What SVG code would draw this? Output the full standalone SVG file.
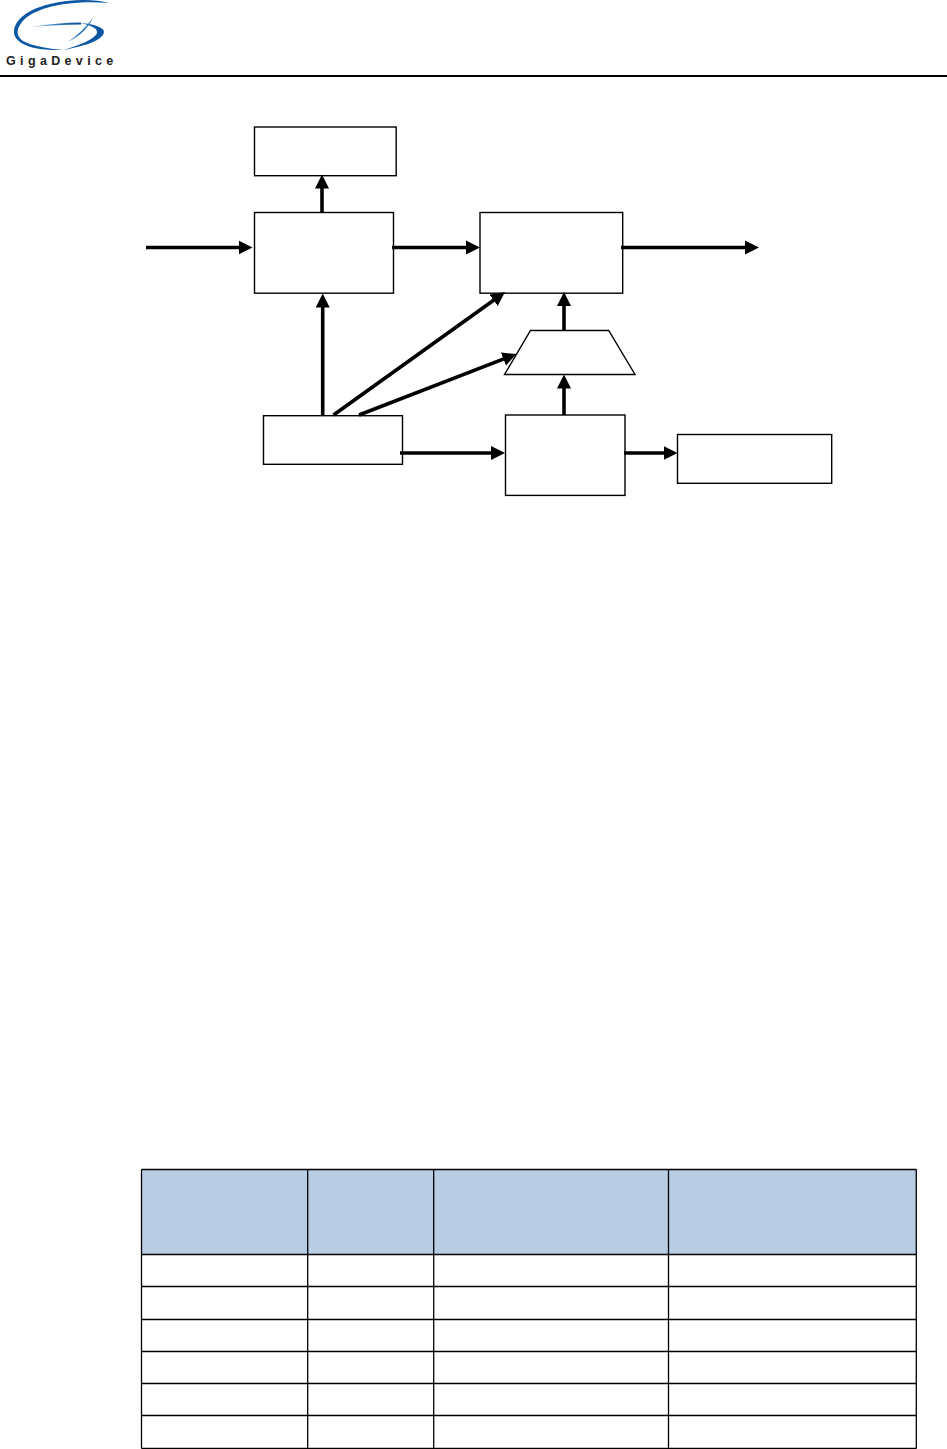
<svg xmlns="http://www.w3.org/2000/svg" width="947" height="1449" viewBox="0 0 947 1449">
<style>
.box{fill:#fff;stroke:#000;stroke-width:1.4}
.conn{fill:none;stroke:#000;stroke-width:3.6;marker-end:url(#ah)}
.grid{fill:none;stroke:#000;stroke-width:1.3}
.brand{font-family:"Liberation Sans",Arial,sans-serif;font-weight:bold;font-size:12.5px;letter-spacing:4.35px;fill:#222}
</style>
<defs>
<marker id="ah" markerUnits="userSpaceOnUse" markerWidth="15" markerHeight="15" refX="6" refY="7.500" orient="auto"><path d="M0 0.500L14 7.500L0 14.500Z" fill="#000"/></marker>
<linearGradient id="sw" x1="0" x2="1" y1="0" y2="0"><stop offset="0" stop-color="#a9cbe8"/><stop offset=".55" stop-color="#2f76bb"/><stop offset="1" stop-color="#0b4f9e"/></linearGradient>
</defs>
<rect width="947" height="1449" fill="#fff"/>
<g id="logo">
<path d="M109 3C95-1 70-1 50 4C28 9 14 20 14 32C14 41 26 47 40 49C48 50 56 50 64 50C50 49 32 46 23 41C17 37 16 31 20 25C27 13 45 7 65 4C80 2 95 2 109 3Z" fill="#0b57a4"/>
<path d="M64 50C78 47 103 42 104 32C104 28 96 24 80 23C90 25 98 28 97 33C95 39 80 45 64 50Z" fill="#0b57a4"/>
<path d="M32 27C48 24 65 22.500 81 22.500L81 24.500C65 24.500 48 25.500 32 27Z" fill="url(#sw)"/>
<path d="M93 18C86 27 78 35 68 42C80 36 89 27 93 18Z" fill="#2f76bb"/>
<text class="brand" x="6" y="65">GigaDevice</text>
<rect x="0" y="75" width="947" height="2" fill="#000"/>
</g>
<g id="n-top"><rect class="box" x="254.500" y="127" width="141.700" height="48.700"/></g>
<g id="n-a"><rect class="box" x="254.500" y="212.500" width="139" height="80.700"/></g>
<g id="n-b"><rect class="box" x="480" y="212.500" width="142.700" height="80.700"/></g>
<g id="n-mux"><path class="box" d="M530.500 330.500H608.700L635 374.500H504.500Z"/></g>
<g id="n-c"><rect class="box" x="263.500" y="415.700" width="139" height="48.600"/></g>
<g id="n-d"><rect class="box" x="505.500" y="415" width="119.500" height="80.400"/></g>
<g id="n-e"><rect class="box" x="677.500" y="434.500" width="154.200" height="48.800"/></g>
<g id="connectors">
<path class="conn" d="M146 247.500H244.500"/>
<path class="conn" d="M322 212V182.500"/>
<path class="conn" d="M392 247.500H472"/>
<path class="conn" d="M621 247.500H751"/>
<path class="conn" d="M322.700 415V301.500"/>
<path class="conn" d="M333.500 415L498.500 296.700"/>
<path class="conn" d="M359 415L509 356.900"/>
<path class="conn" d="M400 453H497"/>
<path class="conn" d="M564 331V300"/>
<path class="conn" d="M564 415V382.500"/>
<path class="conn" d="M624 453H669.500"/>
</g>
<g id="table">
<rect x="141.500" y="1169.500" width="775" height="85" fill="#b8cce4"/>
<path class="grid" d="M141.500 1169.500H916.500M141.500 1254.500H916.500M141.500 1286.500H916.500M141.500 1319.500H916.500M141.500 1351.500H916.500M141.500 1383.500H916.500M141.500 1415.500H916.500M141.500 1448.300H916.500M141.500 1169.500V1448.500M307.700 1169.500V1448.500M433.700 1169.500V1448.500M668.500 1169.500V1448.500M916.300 1169.500V1448.500"/>
</g>
</svg>
